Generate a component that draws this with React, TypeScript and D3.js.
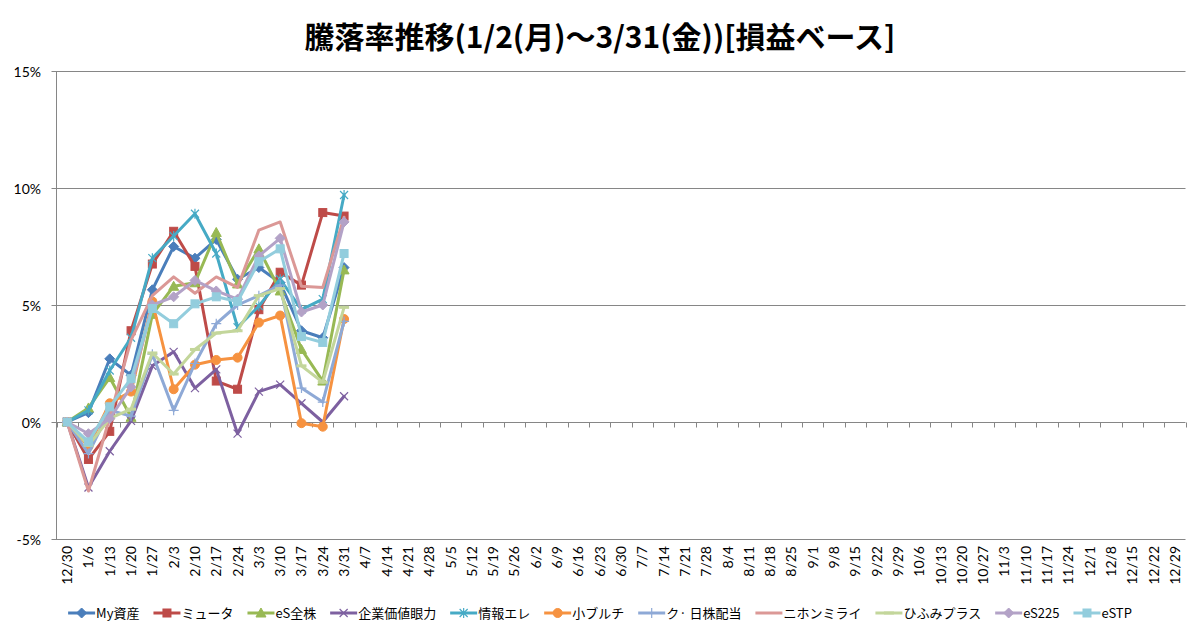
import { useEffect, useRef } from 'react'
import * as d3 from 'd3'

const title = '騰落率推移(1/2(月)～3/31(金))[損益ベース]'

const categories = [
  '12/30', '1/6', '1/13', '1/20', '1/27', '2/3', '2/10', '2/17', '2/24', '3/3', '3/10', '3/17', '3/24', '3/31',
  '4/7', '4/14', '4/21', '4/28', '5/5', '5/12', '5/19', '5/26', '6/2', '6/9', '6/16', '6/23', '6/30',
  '7/7', '7/14', '7/21', '7/28', '8/4', '8/11', '8/18', '8/25', '9/1', '9/8', '9/15', '9/22', '9/29',
  '10/6', '10/13', '10/20', '10/27', '11/3', '11/10', '11/17', '11/24', '12/1', '12/8', '12/15', '12/22', '12/29',
]

const yTicks = [-5, 0, 5, 10, 15]

// values in %, one per week from 12/30 to 3/31
const myShisan = [0, 0.4, 2.7, 2.0, 5.65, 7.5, 7.0, 7.8, 6.1, 6.6, 5.95, 3.9, 3.6, 6.6]
const myuta = [0, -1.6, -0.4, 3.9, 6.75, 8.15, 6.65, 1.75, 1.4, 4.8, 6.4, 5.85, 8.95, 8.8]
const esZenkabu = [0, 0.6, 1.9, 0.2, 4.6, 5.8, 5.95, 8.1, 5.9, 7.4, 5.6, 3.1, 1.75, 6.5]
const kigyoKachi = [0, -2.8, -1.25, 0.05, 2.4, 3.0, 1.45, 2.25, -0.5, 1.3, 1.6, 0.8, 0.0, 1.1]
const johoEle = [0, 0.5, 2.2, 3.6, 7.0, 7.95, 8.9, 7.2, 4.05, 4.95, 6.1, 4.8, 5.25, 9.7]
const koBuruchi = [0, -1.05, 0.8, 1.3, 5.15, 1.4, 2.45, 2.65, 2.75, 4.25, 4.55, -0.05, -0.2, 4.4]
const kuNikabu = [0, -1.35, 0.5, 0.25, 2.9, 0.5, 2.5, 4.2, 5.0, 5.4, 5.85, 1.45, 0.85, 4.3]
const nihonMirai = [0, -2.95, 0.2, 3.5, 5.4, 6.2, 5.5, 6.2, 5.75, 8.2, 8.55, 5.8, 5.75, 8.75]
const hifumiPlus = [0, -1.0, 0.15, 0.55, 2.95, 2.05, 3.1, 3.8, 3.9, 5.4, 5.7, 2.4, 1.7, 4.9]
const es225 = [0, -0.5, 0.15, 1.5, 5.0, 5.35, 6.05, 5.6, 5.25, 7.1, 7.85, 4.7, 5.0, 8.55]
const esTP = [0, -0.85, 0.65, 1.85, 4.85, 4.2, 5.05, 5.35, 5.15, 6.85, 7.4, 3.65, 3.4, 7.2]

const seriesNames = ['My資産', 'ミュータ', 'eS全株', '企業価値眼力', '情報エレ', '小ブルチ', 'ク· 日株配当', 'ニホンミライ', 'ひふみプラス', 'eS225', 'eSTP']
const seriesValues = [myShisan, myuta, esZenkabu, kigyoKachi, johoEle, koBuruchi, kuNikabu, nihonMirai, hifumiPlus, es225, esTP]
const seriesColors = ['#4A7EBB', '#BE4B48', '#98B954', '#7D60A0', '#46AAC5', '#F69240', '#8EA9D6', '#DB9896', '#C3D69B', '#B3A2C7', '#93CDDD']
const seriesMarkers = ['diamond', 'square', 'triangle', 'x', 'star', 'circle', 'plus', 'none', 'dash', 'diamond', 'square']

function drawMarker(g: d3.Selection<SVGGElement, unknown, null, undefined>, type: string, color: string) {
  if (type === 'diamond') {
    g.append('path').attr('d', 'M0,-5L5,0L0,5L-5,0Z').attr('fill', color).attr('stroke', color)
  } else if (type === 'square') {
    g.append('rect').attr('x', -4).attr('y', -4).attr('width', 8).attr('height', 8).attr('fill', color).attr('stroke', color)
  } else if (type === 'triangle') {
    g.append('path').attr('d', 'M0,-5L5,4L-5,4Z').attr('fill', color).attr('stroke', color)
  } else if (type === 'circle') {
    g.append('circle').attr('r', 4.5).attr('fill', color).attr('stroke', color)
  } else if (type === 'x') {
    g.append('path').attr('d', 'M-4,-4L4,4M-4,4L4,-4').attr('stroke', color).attr('stroke-width', 1.2).attr('fill', 'none')
  } else if (type === 'star') {
    g.append('path').attr('d', 'M-4,-4L4,4M-4,4L4,-4M0,-5L0,5').attr('stroke', color).attr('stroke-width', 1.2).attr('fill', 'none')
  } else if (type === 'plus') {
    g.append('path').attr('d', 'M-5,0L5,0M0,-5L0,5').attr('stroke', color).attr('stroke-width', 1.2).attr('fill', 'none')
  } else if (type === 'dash') {
    g.append('rect').attr('x', -5).attr('y', -1.5).attr('width', 10).attr('height', 3).attr('fill', color)
  }
}

export default function App() {
  const svgRef = useRef<SVGSVGElement>(null)

  useEffect(() => {
    document.body.style.margin = '0'
    if (!svgRef.current) return
    const svg = d3.select(svgRef.current)
    svg.selectAll('*').remove()

    const width = 1200
    const height = 638
    const plot = { left: 56.5, right: 1185.5, top: 71, bottom: 539 }
    const axisColor = '#868686'
    const labelFont = 'Lato, "Noto Sans", sans-serif'
    const cjkFont = '"Noto Sans CJK JP", sans-serif'

    svg.attr('width', width).attr('height', height)
    svg.append('rect').attr('width', width).attr('height', height).attr('fill', '#fff')

    const x = d3.scaleBand<string>().domain(categories).range([plot.left, plot.right]).padding(0)
    const y = d3.scaleLinear().domain([-5, 15]).range([plot.bottom, plot.top])
    const cx = (i: number) => (x(categories[i]) as number) + x.bandwidth() / 2

    svg.append('text')
      .attr('x', width / 2).attr('y', 48)
      .attr('text-anchor', 'middle')
      .attr('font-family', cjkFont).attr('font-size', 30).attr('font-weight', 700)
      .attr('fill', '#000')
      .text(title)

    // gridlines + y axis
    const grid = svg.append('g')
    yTicks.forEach((t) => {
      const yy = Math.round(y(t)) + 0.5
      grid.append('line')
        .attr('x1', plot.left - 5).attr('x2', plot.right)
        .attr('y1', yy).attr('y2', yy)
        .attr('stroke', axisColor).attr('stroke-width', 1)
      grid.append('text')
        .attr('x', 41).attr('y', yy + 5)
        .attr('text-anchor', 'end')
        .attr('font-family', labelFont).attr('font-size', 14)
        .attr('fill', '#000')
        .text(`${t}%`)
    })
    grid.append('line')
      .attr('x1', plot.left).attr('x2', plot.left)
      .attr('y1', plot.top).attr('y2', plot.bottom)
      .attr('stroke', axisColor).attr('stroke-width', 1)

    // category axis crossing at 0
    const y0 = Math.round(y(0)) + 0.5
    d3.range(categories.length + 1).forEach((i) => {
      const xx = Math.round(plot.left + i * x.bandwidth()) + 0.5
      grid.append('line')
        .attr('x1', xx).attr('x2', xx)
        .attr('y1', y0).attr('y2', y0 + 5)
        .attr('stroke', axisColor).attr('stroke-width', 1)
    })
    categories.forEach((c, i) => {
      svg.append('text')
        .attr('transform', `translate(${cx(i) + 5},${plot.bottom + 7}) rotate(-90)`)
        .attr('text-anchor', 'end')
        .attr('font-family', labelFont).attr('font-size', 14)
        .attr('fill', '#000')
        .text(c)
    })

    // series
    const line = d3.line<number>()
      .x((_, i) => cx(i))
      .y((d) => y(d))

    seriesValues.forEach((vals, s) => {
      const color = seriesColors[s]
      const g = svg.append('g')
      g.append('path')
        .datum(vals)
        .attr('fill', 'none').attr('stroke', color).attr('stroke-width', 3)
        .attr('stroke-linejoin', 'round').attr('stroke-linecap', 'round')
        .attr('d', line)
      vals.forEach((v, i) => {
        const m = g.append('g').attr('transform', `translate(${cx(i)},${y(v)})`)
        drawMarker(m, seriesMarkers[s], color)
      })
    })

    // legend
    const legend = svg.append('g')
    const legendY = 613
    let lx = 0
    seriesNames.forEach((name, s) => {
      const color = seriesColors[s]
      const item = legend.append('g').attr('transform', `translate(${lx},${legendY})`)
      item.append('line')
        .attr('x1', 0).attr('x2', 27).attr('y1', 0).attr('y2', 0)
        .attr('stroke', color).attr('stroke-width', 3)
      const m = item.append('g').attr('transform', 'translate(13.5,0)')
      drawMarker(m, seriesMarkers[s], color)
      const txt = item.append('text')
        .attr('x', 28).attr('y', 5)
        .attr('font-family', cjkFont).attr('font-size', 13)
        .attr('fill', '#000')
        .text(name)
      const w = (txt.node() as SVGTextElement).getComputedTextLength()
      lx += 28 + w + 14
    })
    const total = lx - 14
    legend.attr('transform', `translate(${(width - total) / 2},0)`)
  }, [])

  return <svg ref={svgRef} style={{ display: 'block' }}></svg>
}
